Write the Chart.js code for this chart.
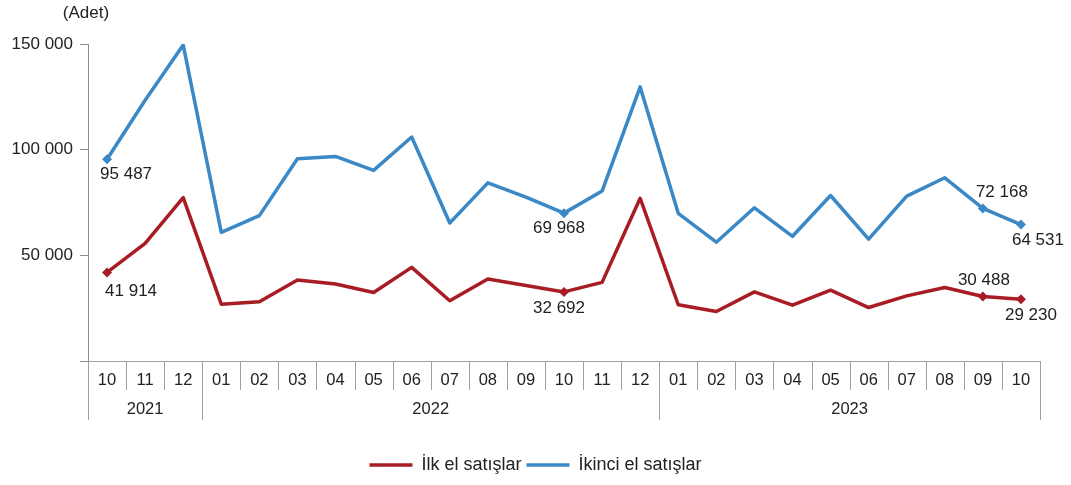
<!DOCTYPE html>
<html>
<head>
<meta charset="utf-8">
<script src="https://cdn.jsdelivr.net/npm/chart.js@4.4.1/dist/chart.umd.min.js"></script>
<style>
  html, body { margin: 0; padding: 0; background: #ffffff; }
  #wrap { width: 1071px; height: 485px; position: relative; }
</style>
</head>
<body>
<div id="wrap"><canvas id="c" width="1071" height="485"></canvas></div>
<script>
// ---- Data ----
const months = ['10','11','12','01','02','03','04','05','06','07','08','09','10','11','12','01','02','03','04','05','06','07','08','09','10'];
const years  = ['2021','2021','2021','2022','2022','2022','2022','2022','2022','2022','2022','2022','2022','2022','2022','2023','2023','2023','2023','2023','2023','2023','2023','2023','2023'];
const firstHand  = [41914, 55700, 77300, 26900, 28000, 38300, 36400, 32400, 44300, 28500, 38800, 35700, 32692, 37200, 77000, 26600, 23400, 32700, 26400, 33500, 25300, 30800, 34800, 30488, 29230];
const secondHand = [95487, 123400, 149500, 60900, 68800, 95700, 96800, 90200, 106000, 65300, 84300, 77500, 69968, 80400, 129700, 69900, 56200, 72500, 59000, 78300, 57700, 78000, 86700, 72168, 64531];
const seriesNames = ['İlk el satışlar', 'İkinci el satışlar'];
const yTicks = [0, 50000, 100000, 150000];
const labelledIdx = [0, 12, 23, 24];
const unitLabel = '(Adet)';

// ---- Style ----
const RED = '#A81C24';
const BLUE = '#3A88C5';
const TEXT = '#222222';
const AXIS = '#8c8c8c';
const FONT = 'Liberation Sans, Arial, sans-serif';

// label placement per series/index: [dx, dy, align]
const labelPlace = {
  0: { 0: [-2, 19, 'left'], 12: [-5, 16, 'center'], 23: [1, -16, 'center'], 24: [-16, 16, 'left'] },
  1: { 0: [-7, 15, 'left'], 12: [-5, 15, 'center'], 23: [-7, -16, 'left'], 24: [-9, 16, 'left'] }
};

function fmt(v) {
  return String(v).replace(/\B(?=(\d{3})+(?!\d))/g, ' ');
}
function radii() {
  return months.map((m, i) => labelledIdx.includes(i) ? 5 : 0);
}

const decor = {
  id: 'decor',
  afterDraw(chart) {
    const ctx = chart.ctx;
    const x = chart.scales.x;
    const area = chart.chartArea;
    const n = months.length;
    const half = (x.getPixelForValue(1) - x.getPixelForValue(0)) / 2;
    const y0 = area.bottom;
    const monthBottom = y0 + 29;
    const yearBottom = y0 + 59;
    ctx.save();
    ctx.strokeStyle = '#a0a0a0';
    ctx.lineWidth = 1;
    for (let i = 0; i <= n; i++) {
      const px = Math.round((i < n ? x.getPixelForValue(i) - half : x.getPixelForValue(n - 1) + half)) + 0.5;
      const yearEdge = (i === 0 || i === n || years[i] !== years[i - 1]);
      ctx.beginPath();
      ctx.moveTo(px, y0);
      ctx.lineTo(px, yearEdge ? yearBottom : monthBottom);
      ctx.stroke();
    }
    // month labels
    ctx.fillStyle = TEXT;
    ctx.font = '16.5px ' + FONT;
    ctx.textAlign = 'center';
    ctx.textBaseline = 'middle';
    for (let i = 0; i < n; i++) {
      ctx.fillText(months[i], x.getPixelForValue(i), y0 + 19);
    }
    // year labels
    let start = 0;
    for (let i = 1; i <= n; i++) {
      if (i === n || years[i] !== years[start]) {
        const cx = (x.getPixelForValue(start) + x.getPixelForValue(i - 1)) / 2;
        ctx.fillText(years[start], cx, y0 + 48);
        start = i;
      }
    }
    // unit label
    ctx.font = '17px ' + FONT;
    ctx.fillText(unitLabel, area.left - 2, 13);
    // data labels
    chart.data.datasets.forEach((ds, di) => {
      const meta = chart.getDatasetMeta(di);
      labelledIdx.forEach(i => {
        const p = meta.data[i];
        const pl = labelPlace[di][i];
        ctx.textAlign = pl[2];
        ctx.fillText(fmt(ds.data[i]), p.x + pl[0], p.y + pl[1]);
      });
    });
    ctx.restore();
  }
};

new Chart(document.getElementById('c'), {
  type: 'line',
  data: {
    labels: months,
    datasets: [
      { label: seriesNames[0], data: firstHand, borderColor: RED, backgroundColor: RED,
        borderWidth: 3.5, pointStyle: 'rectRot', pointRadius: radii(), pointBorderWidth: 0,
        pointBackgroundColor: RED, tension: 0, borderJoinStyle: 'round' },
      { label: seriesNames[1], data: secondHand, borderColor: BLUE, backgroundColor: BLUE,
        borderWidth: 3.5, pointStyle: 'rectRot', pointRadius: radii(), pointBorderWidth: 0,
        pointBackgroundColor: BLUE, tension: 0, borderJoinStyle: 'round' }
    ]
  },
  options: {
    responsive: false,
    animation: false,
    layout: { padding: { top: 44, right: 0, bottom: 1, left: 0 } },
    plugins: {
      tooltip: { enabled: false },
      legend: {
        position: 'bottom',
        labels: {
          usePointStyle: true, pointStyle: 'line', pointStyleWidth: 43,
          color: TEXT, font: { family: FONT, size: 18 }, padding: 5,
          generateLabels(chart) {
            const items = Chart.defaults.plugins.legend.labels.generateLabels(chart);
            items.forEach((it, k) => {
              const ds = chart.data.datasets[k];
              it.lineWidth = ds.borderWidth;
              it.strokeStyle = ds.borderColor;
              it.fillStyle = ds.borderColor;
              it.pointStyle = 'line';
            });
            return items;
          }
        }
      }
    },
    scales: {
      x: {
        type: 'category', offset: true,
        grid: { display: false },
        ticks: { display: false },
        border: { display: true, color: '#a0a0a0', width: 1 },
        afterFit(s) { s.height = 90; }
      },
      y: {
        min: 0, max: 150000,
        afterBuildTicks(s) { s.ticks = yTicks.map(v => ({ value: v })); },
        ticks: { color: TEXT, font: { family: FONT, size: 17 }, padding: 7,
                 callback: v => v === 0 ? '' : fmt(v) },
        grid: { drawOnChartArea: false, tickLength: 8, color: AXIS },
        border: { display: true, color: AXIS, width: 1 },
        afterFit(s) { s.width = 88; }
      },
      yRightSpace: {
        position: 'right', min: 0, max: 150000,
        ticks: { display: false },
        grid: { display: false },
        border: { display: false },
        afterFit(s) { s.width = 31; }
      }
    }
  },
  plugins: [decor]
});
</script>
</body>
</html>
